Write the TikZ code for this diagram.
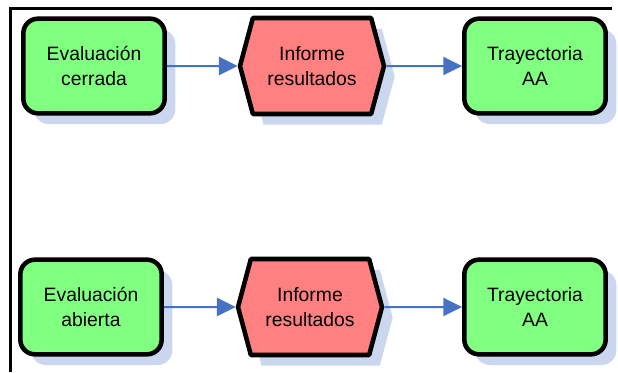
\documentclass[tikz,border=0pt]{standalone}
\usepackage{fontspec}
\setmainfont{Liberation Sans}
\usetikzlibrary{shapes.symbols, shadows, arrows.meta}
\definecolor{boxgreen}{RGB}{128,255,128}
\definecolor{boxred}{RGB}{255,128,128}
\definecolor{flowblue}{RGB}{70,114,196}
\definecolor{shadeblue}{RGB}{168,188,228}
\tikzset{
    shade box/.style={drop shadow={shadow xshift=8pt, shadow yshift=-8pt, fill=shadeblue, opacity=0.6}},
    stage/.style={draw, line width=3.4pt, rounded corners=11pt, fill=boxgreen, shade box,
        minimum width=106pt, minimum height=71pt, align=center,
        font=\fontsize{14.5}{18.5}\selectfont},
    report/.style={draw, line width=3.4pt, signal, signal to=east and west, signal pointer angle=150,
        line join=round, fill=boxred, shade box, inner sep=0pt,
        minimum width=108pt, minimum height=72pt, align=center,
        font=\fontsize{14.5}{18.5}\selectfont},
    flow/.style={draw=flowblue, line width=1.5pt, -{Triangle[length=14pt,width=13.5pt]}}
}
\begin{document}
\begin{tikzpicture}[x=0.75pt, y=-0.75pt]
\useasboundingbox (0,0) rectangle (618,372);
% Frame
    \draw[line width=2.25pt] (612,8) -- (10,8) -- (10,372);
% Upper row
    \node[stage] (cerrada) at (94,66) {Evaluación\\cerrada};
    \node[report] (informeA) at (312,66) {Informe\\resultados};
    \node[stage] (trayA) at (535,66) {Trayectoria\\AA};
% Lower row
    \node[stage] (abierta) at (91,307) {Evaluación\\abierta};
    \node[report] (informeB) at (310,307) {Informe\\resultados};
    \node[stage] (trayB) at (535,307) {Trayectoria\\AA};
% Arrows
    \draw[flow] (cerrada) -- (informeA);
    \draw[flow] (informeA) -- (trayA);
    \draw[flow] (abierta) -- (informeB);
    \draw[flow] (informeB) -- (trayB);
\end{tikzpicture}
\end{document}
